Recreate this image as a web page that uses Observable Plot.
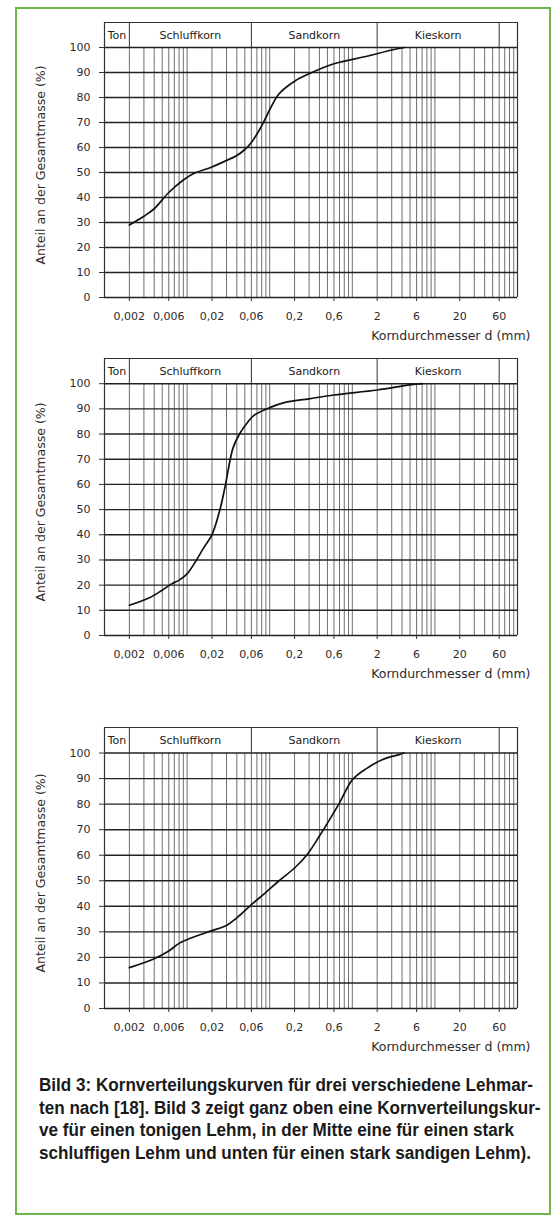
<!DOCTYPE html>
<html>
<head>
<meta charset="utf-8">
<script src="https://cdn.jsdelivr.net/npm/d3@7"></script>
<script src="https://cdn.jsdelivr.net/npm/@observablehq/plot@0.6"></script>
<style>
  html, body { margin: 0; padding: 0; background: #fff; }
  #page { position: relative; width: 554px; height: 1223px; overflow: hidden; background: #fff; }
  #frame { position: absolute; left: 15px; top: 7px; width: 536px; height: 1208px; border: 2px solid #6fb64b; box-sizing: border-box; }
  .chart { position: absolute; left: 0; }
  .chart svg { display: block; overflow: visible; }
  #caption { position: absolute; left: 39px; top: 1074px; font-family: "Liberation Sans", Arial, sans-serif; font-weight: bold; font-size: 17.5px; line-height: 22.5px; color: #1a1a1a; white-space: nowrap; }
  #caption div { transform-origin: 0 50%; width: max-content; }
</style>
</head>
<body>
<div id="page">
  <div id="frame"></div>
  <div id="c1" class="chart" style="top:0px"></div>
  <div id="c2" class="chart" style="top:336px"></div>
  <div id="c3" class="chart" style="top:705px"></div>
  <div id="caption"></div>
</div>
<script>
// Grain-size classes (header band)
const zoneNames = ["Ton", "Schluffkorn", "Sandkorn", "Kieskorn"];
const zoneBounds = [0.001, 0.002, 0.06, 2, 60];

// x axis tick values and their labels (mm)
const xTicks = [0.002, 0.006, 0.02, 0.06, 0.2, 0.6, 2, 6, 20, 60];
const xTickLabels = ["0,002", "0,006", "0,02", "0,06", "0,2", "0,6", "2", "6", "20", "60"];

// y axis ticks (%)
const yTicks = [0, 10, 20, 30, 40, 50, 60, 70, 80, 90, 100];

// Curve 1: toniger Lehm (diameter mm, percent)
const tonigD = [0.002, 0.003, 0.004, 0.006, 0.009, 0.012, 0.02, 0.03, 0.04, 0.05, 0.06, 0.075, 0.09, 0.105, 0.13, 0.2, 0.3, 0.6, 1.5, 3, 4.3];
const tonigP = [29, 32.5, 35.5, 42, 47, 49.6, 52.2, 54.8, 56.8, 59.2, 62, 67, 72, 76.5, 81.5, 86.5, 89.5, 93.5, 96.5, 99, 100];

// Curve 2: stark schluffiger Lehm
const schluffD = [0.002, 0.0035, 0.005, 0.0065, 0.008, 0.01, 0.013, 0.016, 0.02, 0.025, 0.029, 0.036, 0.044, 0.055, 0.065, 0.1, 0.15, 0.3, 0.6, 2, 5, 7];
const schluffP = [12, 15, 18, 20.5, 22, 24.5, 30, 35, 40, 50, 59.5, 74.5, 80.5, 85, 87.5, 90.5, 92.5, 94, 95.5, 97.5, 99.5, 100];

// Curve 3: stark sandiger Lehm
const sandD = [0.002, 0.004, 0.006, 0.008, 0.011, 0.02, 0.03, 0.04, 0.057, 0.09, 0.13, 0.2, 0.28, 0.4, 0.7, 1.0, 1.5, 2.3, 3.7, 4.2];
const sandP = [16, 19.5, 22.5, 25.5, 27.5, 30.5, 32.5, 35.5, 40, 45.5, 50, 55, 60, 67.5, 80.5, 89.5, 94, 97.4, 99.4, 100];

const xTitle = "Korndurchmesser d (mm)";
const yTitle = "Anteil an der Gesamtmasse (%)";

const captionLines = [
  "Bild 3: Kornverteilungskurven für drei verschiedene Lehmar-",
  "ten nach [18]. Bild 3 zeigt ganz oben eine Kornverteilungskur-",
  "ve für einen tonigen Lehm, in der Mitte eine für einen stark",
  "schluffigen Lehm und unten für einen stark sandigen Lehm)."
];

// Log paper grid: 1..9 x 10^k
const vGrid = [];
for (let e = -3; e <= 1; e++) for (let k = 1; k <= 9; k++) vGrid.push(+(k * Math.pow(10, e)).toPrecision(3));
vGrid.push(100);

const zones = zoneNames.map((n, i) => ({name: n, mid: Math.sqrt(zoneBounds[i] * zoneBounds[i + 1])}));
const tickRows = xTicks.map((t, i) => ({t, label: xTickLabels[i]}));
const FONT = "'DejaVu Sans', 'Liberation Sans', sans-serif";

function chart(D, P, height, top, bottom) {
  const data = D.map((d, i) => ({d, p: P[i]}));
  return Plot.plot({
    width: 554,
    height,
    marginLeft: 104,
    marginRight: 37,
    marginTop: top,
    marginBottom: bottom,
    x: {type: "log", domain: [0.001, 100]},
    y: {domain: [0, 110]},
    style: {fontFamily: FONT, fontSize: "11px", color: "#2b2b2b", background: "transparent", overflow: "visible"},
    marks: [
      Plot.ruleX(vGrid, {y1: 0, y2: 100, stroke: "#4a4a4a", strokeWidth: 0.8}),
      Plot.ruleY(yTicks, {stroke: "#222", strokeWidth: 1.4}),
      Plot.ruleX([0.001, 100], {y1: 0, y2: 110, stroke: "#333", strokeWidth: 1.2}),
      Plot.ruleY([110], {stroke: "#333", strokeWidth: 1.2}),
      Plot.ruleX(zoneBounds.slice(1), {y1: 100, y2: 110, stroke: "#333", strokeWidth: 1}),
      Plot.text(zones, {x: "mid", y: 105, text: "name", fontSize: 11, fill: "#222"}),
      Plot.axisY({ticks: yTicks, tickSize: 5, tickPadding: 9, label: null, stroke: "#333", fontSize: 11}),
      Plot.axisX({ticks: xTicks, tickSize: 4, text: null, label: null, stroke: "#333"}),
      Plot.text(tickRows, {x: "t", text: "label", frameAnchor: "bottom", dy: 22, fontSize: 11, fill: "#2b2b2b"}),
      Plot.line(data, {x: "d", y: "p", curve: "catmull-rom", stroke: "#111", strokeWidth: 1.7}),
      Plot.text([xTitle], {frameAnchor: "bottom-right", dx: 13, dy: 42, textAnchor: "end", fontSize: 12.5, fill: "#2b2b2b"}),
      Plot.text([yTitle], {frameAnchor: "left", textAnchor: "middle", rotate: -90, dx: -64, dy: 5, fontSize: 12.5, fill: "#2b2b2b"})
    ]
  });
}

document.getElementById("c1").appendChild(chart(tonigD, tonigP, 357, 22, 60));
document.getElementById("c2").appendChild(chart(schluffD, schluffP, 359, 22, 60));
document.getElementById("c3").appendChild(chart(sandD, sandP, 363, 22, 60));

const cap = document.getElementById("caption");
const lineDivs = captionLines.map(l => { const div = document.createElement("div"); div.textContent = l; cap.appendChild(div); return div; });
// condense the caption font so the first line spans the same width as in the original print
const targetWidth = 494;
const w0 = lineDivs[0].getBoundingClientRect().width;
const sx = targetWidth / w0;
lineDivs.forEach(div => { div.style.transform = `scaleX(${sx})`; });
</script>
</body>
</html>
